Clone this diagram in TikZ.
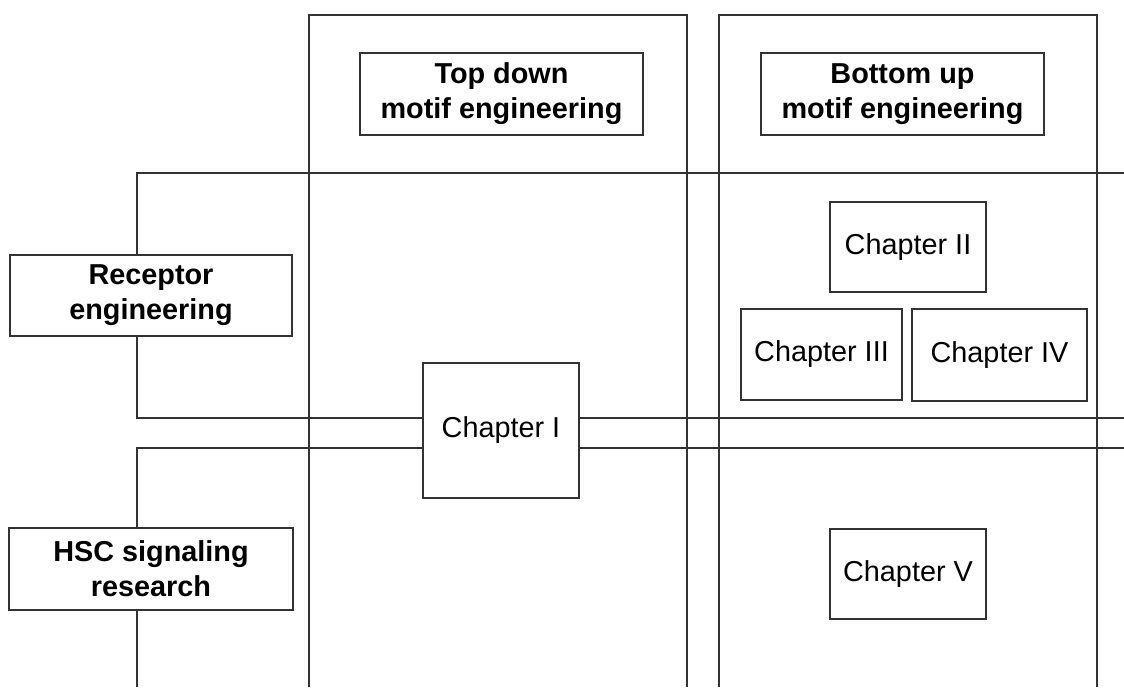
\documentclass[tikz,border=0pt]{standalone}
\usepackage{fontspec}
\setmainfont{Liberation Sans}
\usepackage{xcolor}
\usepackage{tikz}

\definecolor{edgegray}{HTML}{333333}

\begin{document}
\begin{tikzpicture}[x=0.025cm, y=-0.025cm, line width=1.1pt, draw=edgegray,
    headbox/.style={draw=edgegray, fill=white, align=center, inner sep=0pt,
        font=\fontsize{20.5}{25}\selectfont\bfseries},
    chapbox/.style={draw=edgegray, fill=white, inner sep=0pt,
        font=\fontsize{20.5}{24}\selectfont}]
    \useasboundingbox (0,0) rectangle (1124,687);

    % columns
    \draw[edgegray] (309,687) -- (309,15) -- (687,15) -- (687,687);
    \draw[edgegray] (719,687) -- (719,15) -- (1097,15) -- (1097,687);

    % rows
    \draw[edgegray] (1124,173) -- (137,173) -- (137,418) -- (1124,418);
    \draw[edgegray] (1124,448) -- (137,448) -- (137,687);

    % headings
    \node[headbox, minimum width=283*0.025cm, minimum height=82*0.025cm] (topdown) at (501.5,94) {Top down\\motif engineering};
    \node[headbox, minimum width=283*0.025cm, minimum height=82*0.025cm] (bottomup) at (902.5,94) {Bottom up\\motif engineering};
    \node[headbox, minimum width=282*0.025cm, minimum height=81*0.025cm] (receptor) at (151,295.5) {Receptor\\engineering};
    \node[headbox, minimum width=284*0.025cm, minimum height=82*0.025cm] (hsc) at (151,569) {HSC signaling\\research};

    % chapters
    \node[chapbox, minimum width=156*0.025cm, minimum height=135*0.025cm] (chI) at (501,430.5) {Chapter I};
    \node[chapbox, minimum width=156*0.025cm, minimum height=90*0.025cm] (chII) at (908,247) {Chapter II};
    \node[chapbox, minimum width=161*0.025cm, minimum height=91*0.025cm] (chIII) at (821.5,354.5) {Chapter III};
    \node[chapbox, minimum width=175*0.025cm, minimum height=92*0.025cm] (chIV) at (999.5,355) {Chapter IV};
    \node[chapbox, minimum width=156*0.025cm, minimum height=90*0.025cm] (chV) at (908,574) {Chapter V};
\end{tikzpicture}
\end{document}
